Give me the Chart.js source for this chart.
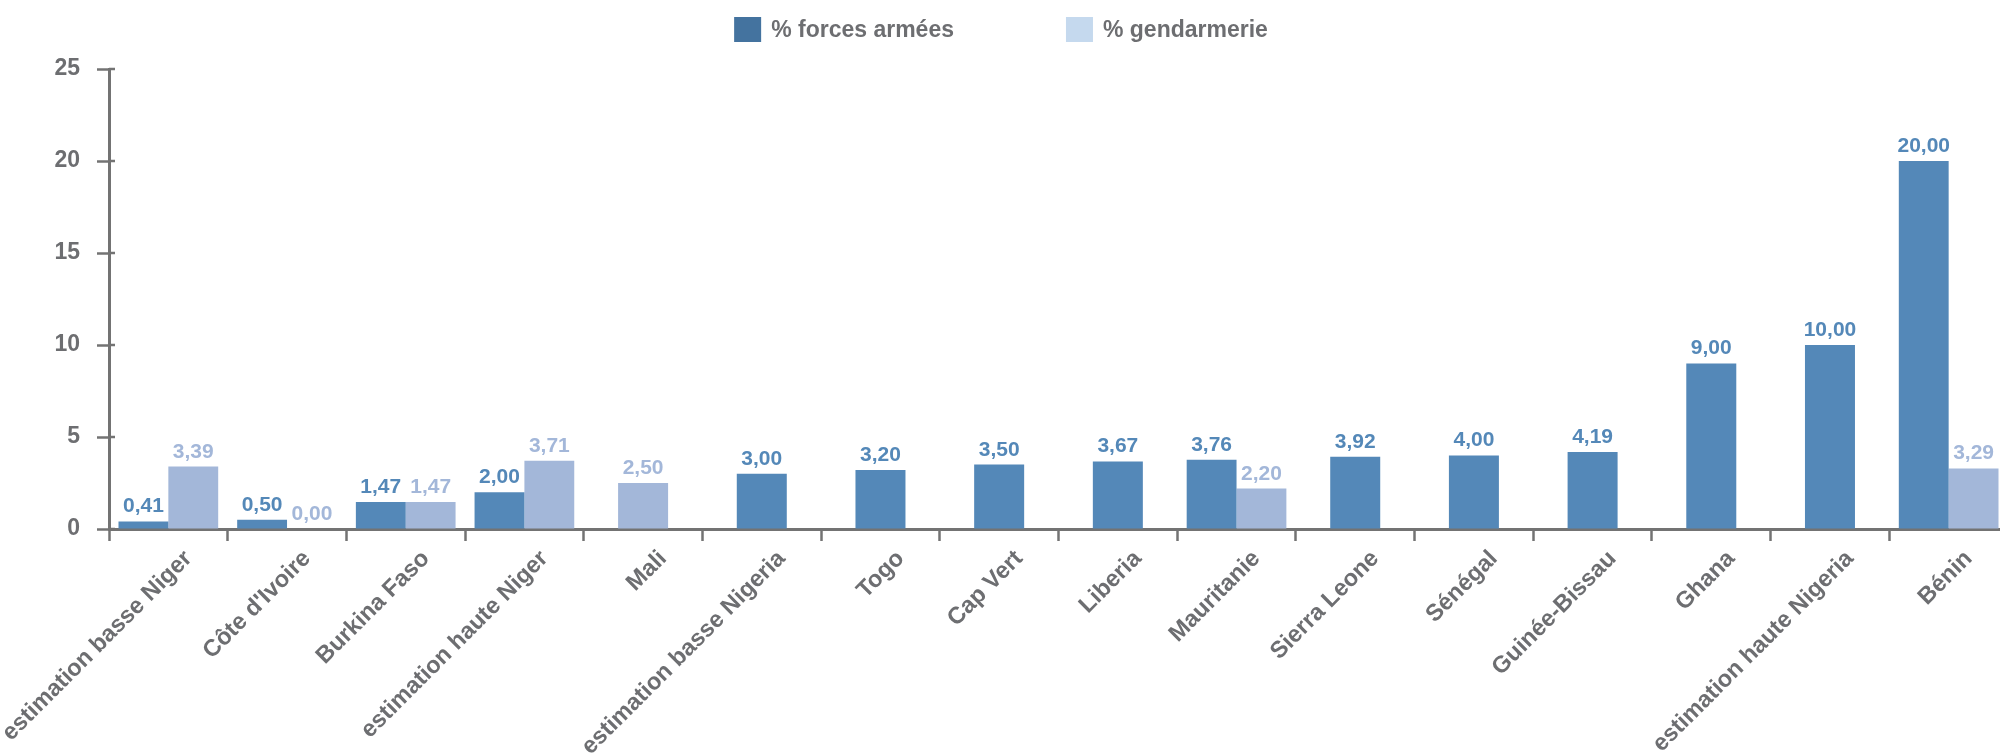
<!DOCTYPE html>
<html lang="fr">
<head>
<meta charset="utf-8">
<title>Forces armées et gendarmerie</title>
<script src="https://cdn.jsdelivr.net/npm/chart.js@4.4.1/dist/chart.umd.min.js"></script>
<style>
  html, body { margin: 0; padding: 0; background: #ffffff; overflow: hidden; }
  #wrap { width: 2010px; height: 756px; }
</style>
</head>
<body>
<div id="wrap"><canvas id="chart" width="2010" height="756"></canvas></div>
<script>
// Pays / estimations
const categories = [
  'estimation basse Niger', "Côte d'Ivoire", 'Burkina Faso', 'estimation haute Niger',
  'Mali', 'estimation basse Nigeria', 'Togo', 'Cap Vert', 'Liberia', 'Mauritanie',
  'Sierra Leone', 'Sénégal', 'Guinée-Bissau', 'Ghana', 'estimation haute Nigeria', 'Bénin'
];

// % forces armées
const forcesArmees = [0.41, 0.50, 1.47, 2.00, null, 3.00, 3.20, 3.50, 3.67, 3.76, 3.92, 4.00, 4.19, 9.00, 10.00, 20.00];

// % gendarmerie
const gendarmerie = [3.39, 0.00, 1.47, 3.71, 2.50, null, null, null, null, 2.20, null, null, null, null, null, 3.29];

// Graduations de l'axe des valeurs
const yTicks = [0, 5, 10, 15, 20, 25];

const seriesNames = ['% forces armées', '% gendarmerie'];

const BAR_COLORS = ['#5488b8', '#a3b7d9'];
const LEGEND_COLORS = ['#44739f', '#c5d9ee'];
const TEXT = '#6d6e71';
const AXIS = '#737373';
const FONT = '"Liberation Sans", Arial, sans-serif';

const fmt = v => v.toFixed(2).replace('.', ',');

// Étiquettes de valeurs au-dessus des barres
const valueLabels = {
  id: 'valueLabels',
  afterDatasetsDraw(chart) {
    const ctx = chart.ctx;
    ctx.save();
    ctx.font = 'bold 21px ' + FONT;
    ctx.textAlign = 'center';
    ctx.textBaseline = 'alphabetic';
    chart.data.datasets.forEach((ds, di) => {
      const meta = chart.getDatasetMeta(di);
      ctx.fillStyle = ds.backgroundColor;
      meta.data.forEach((bar, i) => {
        const v = ds.data[i];
        if (v === null || v === undefined) return;
        ctx.fillText(fmt(v), bar.x, bar.y - 9);
      });
    });
    ctx.restore();
  }
};

// Légende horizontale centrée en haut
const topLegend = {
  id: 'topLegend',
  afterDraw(chart) {
    const ctx = chart.ctx;
    const boxW = 27, boxH = 25, gap = 10, itemGap = 112, top = 17;
    ctx.save();
    ctx.font = 'bold 23px ' + FONT;
    const widths = chart.data.datasets.map(ds => boxW + gap + ctx.measureText(ds.label).width);
    const total = widths.reduce((a, b) => a + b, 0) + itemGap * (widths.length - 1);
    let x = 1001 - total / 2;
    ctx.textBaseline = 'middle';
    ctx.textAlign = 'left';
    chart.data.datasets.forEach((ds, i) => {
      ctx.fillStyle = LEGEND_COLORS[i];
      ctx.fillRect(x, top, boxW, boxH);
      ctx.fillStyle = TEXT;
      ctx.fillText(ds.label, x + boxW + gap, top + boxH / 2 + 1);
      x += widths[i] + itemGap;
    });
    ctx.restore();
  }
};

// Petits traits des graduations traversant l'axe vertical
const crossTicks = {
  id: 'crossTicks',
  afterDraw(chart) {
    const y = chart.scales.y;
    const ctx = chart.ctx;
    ctx.save();
    ctx.strokeStyle = AXIS;
    ctx.lineWidth = 2.5;
    y.ticks.forEach((t, i) => {
      const py = y.getPixelForTick(i);
      ctx.beginPath();
      ctx.moveTo(y.right, py);
      ctx.lineTo(y.right + 6, py);
      ctx.stroke();
    });
    ctx.restore();
  }
};

new Chart(document.getElementById('chart'), {
  type: 'bar',
  data: {
    labels: categories,
    datasets: [
      { label: seriesNames[0], data: forcesArmees, backgroundColor: BAR_COLORS[0] },
      { label: seriesNames[1], data: gendarmerie, backgroundColor: BAR_COLORS[1] }
    ]
  },
  options: {
    responsive: false,
    animation: false,
    devicePixelRatio: 1,
    skipNull: true,
    categoryPercentage: 0.84,
    barPercentage: 1.0,
    maxBarThickness: 50,
    layout: { padding: { top: 69, right: 2, bottom: 0, left: 0 } },
    plugins: {
      legend: { display: false },
      tooltip: { enabled: false }
    },
    scales: {
      x: {
        offset: true,
        grid: {
          offset: true,
          drawOnChartArea: false,
          drawTicks: true,
          tickLength: 12,
          tickWidth: 2.5,
          tickColor: AXIS
        },
        border: { display: true, color: AXIS, width: 3 },
        ticks: {
          autoSkip: false,
          maxRotation: 45,
          minRotation: 45,
          padding: 4,
          labelOffset: 20,
          color: TEXT,
          font: { family: FONT, size: 23.5, weight: 'bold' }
        },
        afterFit(s) { s.height = 227; s.paddingLeft = 0; s.paddingRight = 0; }
      },
      y: {
        min: 0,
        max: 25,
        afterBuildTicks(s) { s.ticks = yTicks.map(v => ({ value: v })); },
        grid: {
          drawOnChartArea: false,
          drawTicks: true,
          tickLength: 12,
          tickWidth: 2.5,
          tickColor: AXIS
        },
        border: { display: true, color: AXIS, width: 3 },
        ticks: {
          padding: 17,
          color: TEXT,
          font: { family: FONT, size: 23, weight: 'bold' }
        },
        afterFit(s) { s.width = 109; }
      }
    }
  },
  plugins: [valueLabels, topLegend, crossTicks]
});
</script>
</body>
</html>
